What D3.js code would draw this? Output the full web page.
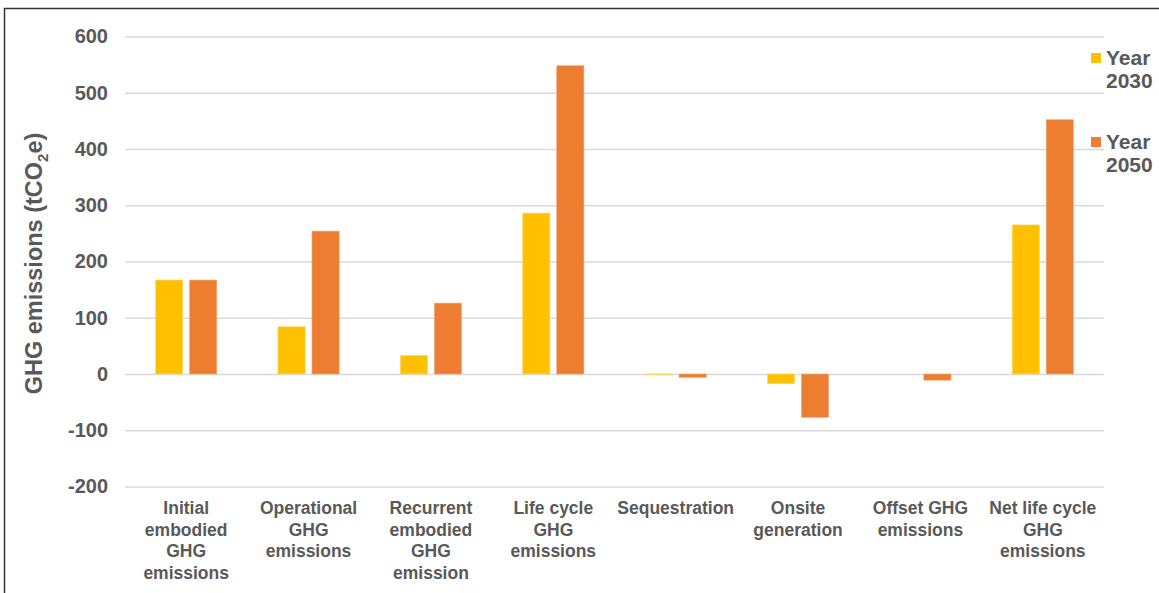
<!DOCTYPE html>
<html>
<head>
<meta charset="utf-8">
<script src="https://cdn.jsdelivr.net/npm/d3@7"></script>
<style>
  body { margin: 0; background: #fff; }
  text { font-family: "Liberation Sans", Arial, sans-serif; font-weight: bold; fill: #595959; }
</style>
</head>
<body>
<svg id="vis"></svg>
<script>
const WIDTH = 1159;
const HEIGHT = 593;

// datos
const categories = [
    ["Initial", "embodied", "GHG", "emissions"],
    ["Operational", "GHG", "emissions"],
    ["Recurrent", "embodied", "GHG", "emission"],
    ["Life cycle", "GHG", "emissions"],
    ["Sequestration"],
    ["Onsite", "generation"],
    ["Offset GHG", "emissions"],
    ["Net life cycle", "GHG", "emissions"]
];
const series = ["Year 2030", "Year 2050"];
const year2030 = [167, 84, 33, 286, -1, -17, 0, 265];
const year2050 = [167, 254, 126, 548, -6, -77, -11, 452];
const yTicks = [-200, -100, 0, 100, 200, 300, 400, 500, 600];
const colors = ["#FFC000", "#ED7D31"];

const svg = d3.select("#vis")
    .attr("width", WIDTH)
    .attr("height", HEIGHT);

// marco
svg.append("path")
    .attr("d", `M4.5,${HEIGHT} V8.5 H${WIDTH}`)
    .attr("fill", "none")
    .attr("stroke", "#333")
    .attr("stroke-width", 1.5);

const plot = { left: 125, right: 1104, top: 36.5, bottom: 486.5 };

const x = d3.scaleBand()
    .domain(d3.range(categories.length))
    .range([plot.left, plot.right]);

const x1 = d3.scaleBand()
    .domain(d3.range(series.length))
    .range([0, x.bandwidth()])
    .paddingInner(0.2)
    .paddingOuter(0.9);

const y = d3.scaleLinear()
    .domain([-200, 600])
    .range([plot.bottom, plot.top]);

// grilla
const ejeY = d3.axisLeft(y)
    .tickValues(yTicks)
    .tickFormat(d => String(d))
    .tickSize(-(plot.right - plot.left))
    .tickPadding(17);
const gy = svg.append("g")
    .attr("transform", `translate(${plot.left},0)`)
    .call(ejeY);
gy.select(".domain").remove();
gy.selectAll("line").attr("stroke", "#d9d9d9").attr("stroke-width", 1.5);
gy.selectAll("text")
    .attr("font-size", 20)
    .attr("fill", "#595959")
    .attr("font-family", "Liberation Sans, Arial, sans-serif")
    .attr("font-weight", "bold");

// barras
const data = categories.map((c, i) => [year2030[i], year2050[i]]);
const groups = svg.append("g").selectAll("g")
    .data(data)
    .join("g")
    .attr("transform", (d, i) => `translate(${x(i)},0)`);

groups.selectAll("rect")
    .data(d => d.map((v, s) => ({ v, s })))
    .join("rect")
    .attr("x", d => x1(d.s))
    .attr("width", x1.bandwidth())
    .attr("y", d => y(Math.max(0, d.v)))
    .attr("height", d => Math.abs(y(d.v) - y(0)))
    .attr("fill", d => colors[d.s])
    .attr("stroke", d => d.s === 0 ? "#ffd966" : "#f4a77a")
    .attr("stroke-width", 0.6);

// etiquetas de categorías
const labels = svg.append("g").selectAll("text")
    .data(categories)
    .join("text")
    .attr("x", (d, i) => x(i) + x.bandwidth() / 2)
    .attr("y", 514)
    .attr("text-anchor", "middle")
    .attr("font-size", 17.5);

labels.selectAll("tspan")
    .data(d => d)
    .join("tspan")
    .attr("x", function () { return d3.select(this.parentNode).attr("x"); })
    .attr("dy", (d, i) => i === 0 ? 0 : 21.5)
    .text(d => d);

// título eje Y
const title = svg.append("text")
    .attr("transform", `translate(42,${(plot.top + plot.bottom) / 2 + 2}) rotate(-90)`)
    .attr("text-anchor", "middle")
    .attr("font-size", 23.5);
title.append("tspan").text("GHG emissions (tCO");
title.append("tspan").text("2").attr("font-size", 15).attr("dy", 6);
title.append("tspan").text("e)").attr("dy", -6);

// leyenda
const legendY = [53, 137];
const legend = svg.append("g").selectAll("g")
    .data(series)
    .join("g")
    .attr("transform", (d, i) => `translate(1091,${legendY[i]})`);

legend.append("rect")
    .attr("width", 10)
    .attr("height", 10)
    .attr("fill", (d, i) => colors[i]);

legend.append("text")
    .attr("y", 12)
    .attr("font-size", 21)
    .selectAll("tspan")
    .data(d => d.split(" "))
    .join("tspan")
    .attr("x", 15)
    .attr("dy", (d, i) => i === 0 ? 0 : 23)
    .text(d => d);
</script>
</body>
</html>
